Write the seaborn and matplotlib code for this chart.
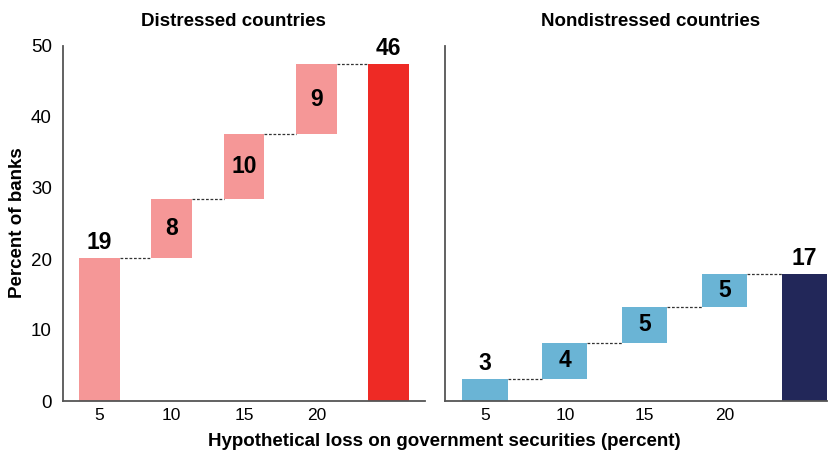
import matplotlib
matplotlib.use("Agg")
import matplotlib.pyplot as plt
import seaborn as sns
import pandas as pd

sns.set_style("white")
plt.rcParams["font.family"] = ["Liberation Sans", "DejaVu Sans"]
plt.rcParams["text.color"] = "black"
plt.rcParams["xtick.color"] = "black"
plt.rcParams["ytick.color"] = "black"

# Data
steps = ["5", "10", "15", "20", "Total"]
tick_labels = ["5", "10", "15", "20", ""]

dist_heights = [20.1, 8.35, 9.15, 9.8, 47.4]
dist_bottoms = [0, 20.1, 28.45, 37.6, 0]
dist_labels = ["19", "8", "10", "9", "46"]

nondist_heights = [3.1, 5.1, 5.1, 4.6, 17.9]
nondist_bottoms = [0, 3.1, 8.2, 13.3, 0]
nondist_labels = ["3", "4", "5", "5", "17"]

dist_colors = ["#F59797"] * 4 + ["#EE2A25"]
nondist_colors = ["#6AB4D5"] * 4 + ["#222759"]

W, H = 833, 457
fig = plt.figure(figsize=(W / 100, H / 100), dpi=100)
ax1 = fig.add_axes([63 / W, 56 / H, 362 / W, 355 / H])
ax2 = fig.add_axes([445 / W, 56 / H, 382 / W, 355 / H])


def waterfall(ax, heights, bottoms, labels, colors, xmax):
    df = pd.DataFrame({"step": steps, "value": heights})
    w = 0.565
    sns.barplot(data=df, x="step", y="value", bottom=bottoms, width=w,
                ax=ax, color=colors[0], edgecolor="none", errorbar=None)
    for patch, c in zip(ax.patches, colors):
        patch.set_facecolor(c)
    # connectors
    for i in range(len(steps) - 1):
        top = bottoms[i] + heights[i]
        ax.plot([i + w / 2, i + 1 - w / 2], [top, top], color="#333333",
                lw=0.9, ls=(0, (2.2, 1.4)))
    # labels
    for i, lab in enumerate(labels):
        top = bottoms[i] + heights[i]
        if i == 0 or i == len(labels) - 1:
            ax.text(i, top + 0.6, lab, ha="center", va="bottom",
                    fontsize=16.5, fontweight="bold", color="black")
        else:
            ax.text(i, bottoms[i] + heights[i] / 2, lab, ha="center",
                    va="center", fontsize=16.5, fontweight="bold", color="black")
    ax.set_xlim(-0.5, xmax)
    ax.set_ylim(0, 50)
    ax.set_xlabel("")
    ax.set_ylabel("")
    ax.set_xticks(range(len(steps)))
    ax.set_xticklabels(tick_labels)
    ax.tick_params(axis="both", length=0, labelsize=12.5, pad=5)
    for s in ["top", "right"]:
        ax.spines[s].set_visible(False)
    for s in ["left", "bottom"]:
        ax.spines[s].set_color("#555555")
        ax.spines[s].set_linewidth(1.3)


waterfall(ax1, dist_heights, dist_bottoms, dist_labels, dist_colors, 4.5)
waterfall(ax2, nondist_heights, nondist_bottoms, nondist_labels, nondist_colors, 4.28)

ax1.set_yticks(range(0, 51, 10))
ax1.tick_params(axis="y", labelsize=13.5, pad=8)
ax2.set_yticks([])

fig.text(18 / W, 1 - 223 / H, "Percent of banks", ha="center", va="center",
         rotation=90, fontsize=13.5, fontweight="bold")
fig.text(233 / W, 1 - 21 / H, "Distressed countries", ha="center", va="center",
         fontsize=13.5, fontweight="bold")
fig.text(651 / W, 1 - 21 / H, "Nondistressed countries", ha="center", va="center",
         fontsize=13.5, fontweight="bold")
fig.text(444 / W, 1 - 441 / H, "Hypothetical loss on government securities (percent)",
         ha="center", va="center", fontsize=13.5, fontweight="bold")

fig.savefig("out.png", dpi=100)
